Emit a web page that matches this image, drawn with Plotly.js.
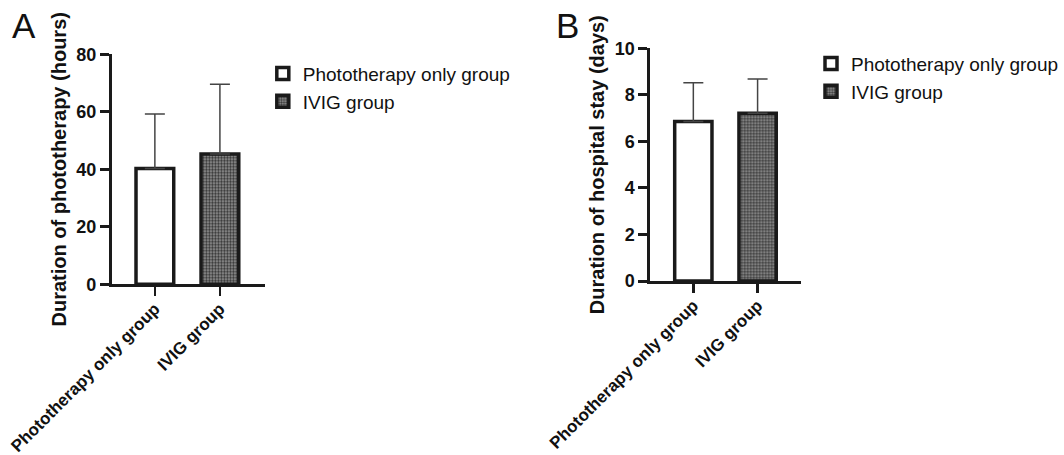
<!DOCTYPE html>
<html>
<head>
<meta charset="utf-8">
<script src="https://cdn.plot.ly/plotly-3.0.1.min.js"></script>
<style>html,body{margin:0;padding:0;background:#fff;}#chart{width:1064px;height:455px;}</style>
</head>
<body>
<div id="chart"></div>
<script>
// ---- data ----
var groups = ["Phototherapy only group", "IVIG group"];
var phototherapyHoursMean = [40.3, 45.3];
var phototherapyHoursSD = [18.9, 24.3];
var hospitalDaysMean = [6.85, 7.21];
var hospitalDaysSD = [1.67, 1.47];
var panelLabels = ["A", "B"];
var yTitles = ["Duration of phototherapy (hours)", "Duration of hospital stay (days)"];

var FONT = "Liberation Sans, Arial, Helvetica, sans-serif";
var edge = "#1a1a1a";

function barTrace(i, means, sds, xa, ya, legendName) {
  var t = {
    type: "bar",
    name: groups[i],
    x: [groups[i]],
    y: [means[i]],
    xaxis: xa, yaxis: ya,
    legend: legendName,
    legendgroup: legendName + "_" + i,
    width: 0.58,
    error_y: {type: "data", symmetric: false, array: [sds[i]], arrayminus: [0],
              color: "#444", thickness: 1.5, width: 10},
    marker: {color: "#ffffff", line: {color: edge, width: 3.5}},
    hoverinfo: "y"
  };
  if (i === 1) {
    t.marker.color = "#7a7a7a";
    t.marker.pattern = {shape: ".", bgcolor: "#999999", fgcolor: "#333333", size: 3, solidity: 0.5, fillmode: "replace"};
  }
  return t;
}

var data = [
  barTrace(0, phototherapyHoursMean, phototherapyHoursSD, "x", "y", "legend"),
  barTrace(1, phototherapyHoursMean, phototherapyHoursSD, "x", "y", "legend"),
  barTrace(0, hospitalDaysMean, hospitalDaysSD, "x2", "y2", "legend2"),
  barTrace(1, hospitalDaysMean, hospitalDaysSD, "x2", "y2", "legend2")
];

function xaxisDef(domain, range) {
  return {
    domain: domain, type: "category", categoryarray: groups, range: range,
    showline: true, linecolor: edge, linewidth: 3, mirror: false,
    ticks: "outside", ticklen: 9, tickwidth: 2.5, tickcolor: edge,
    tickangle: -45, tickfont: {family: FONT, size: 17, color: "#111", weight: "bold"},
    ticklabelstandoff: -4,
    showgrid: false, zeroline: false, fixedrange: true
  };
}
function yaxisDef(domain, range, dtick, title, anchor) {
  return {
    domain: domain, range: range, dtick: dtick, anchor: anchor,
    showline: true, linecolor: edge, linewidth: 3,
    ticks: "outside", ticklen: 9, tickwidth: 3, tickcolor: edge,
    tickfont: {family: FONT, size: 18, color: "#111", weight: "bold"},
    title: {text: title, font: {family: FONT, size: 20, color: "#111", weight: "bold"}, standoff: 5},
    showgrid: false, zeroline: false, fixedrange: true
  };
}

var legendFont = {family: FONT, size: 19, color: "#111"};
var layout = {
  width: 1064, height: 455,
  margin: {l: 0, r: 0, t: 0, b: 0},
  paper_bgcolor: "#fff", plot_bgcolor: "#fff",
  barmode: "overlay",
  showlegend: true,
  xaxis: Object.assign(xaxisDef([0.1053, 0.2491], [-0.66, 1.69]), {anchor: "y"}),
  yaxis: yaxisDef([0.3752, 0.8807], [0, 80], 20, yTitles[0], "x"),
  xaxis2: Object.assign(xaxisDef([0.6118, 0.7538], [-0.669, 1.68]), {anchor: "y2"}),
  yaxis2: yaxisDef([0.3824, 0.8938], [0, 10], 2, yTitles[1], "x2"),
  legend: {x: 0.247, y: 0.88, xanchor: "left", yanchor: "top", font: legendFont,
           tracegroupgap: 5, bgcolor: "rgba(0,0,0,0)", traceorder: "normal"},
  legend2: {x: 0.763, y: 0.902, xanchor: "left", yanchor: "top", font: legendFont,
           tracegroupgap: 5, bgcolor: "rgba(0,0,0,0)", traceorder: "normal"},
  annotations: [
    {text: panelLabels[0], xref: "paper", yref: "paper", x: 0.009, y: 0.943, xanchor: "left", yanchor: "middle",
     showarrow: false, font: {family: FONT, size: 35, color: "#111"}},
    {text: panelLabels[1], xref: "paper", yref: "paper", x: 0.521, y: 0.943, xanchor: "left", yanchor: "middle",
     showarrow: false, font: {family: FONT, size: 35, color: "#111"}}
  ]
};

Plotly.newPlot("chart", data, layout, {displayModeBar: false, staticPlot: true});
</script>
</body>
</html>
